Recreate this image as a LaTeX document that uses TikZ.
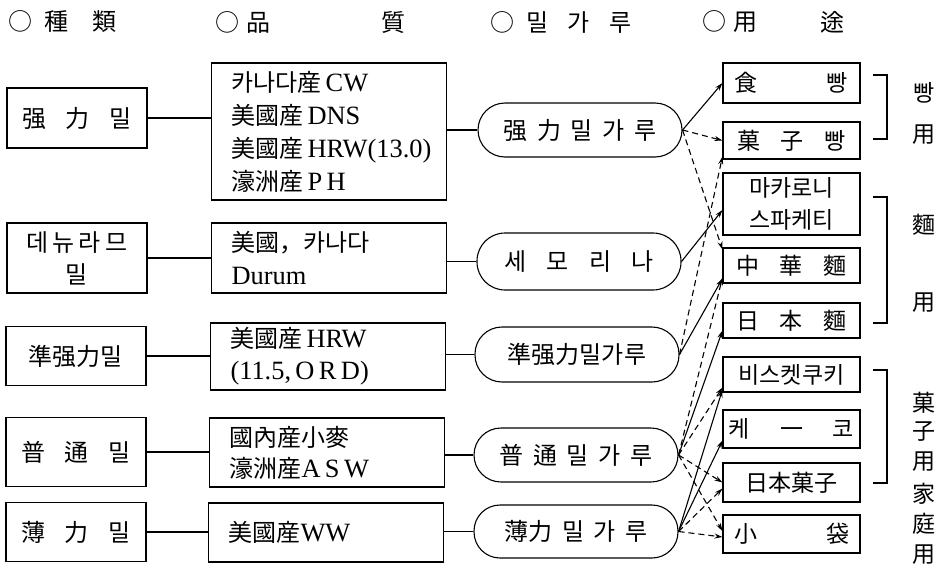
\documentclass[tikz,border=0pt]{standalone}
\usepackage{fontspec}
\setmainfont{Noto Sans CJK KR}
\newfontfamily\lat{Liberation Serif}[Scale=1.1]
\usetikzlibrary{arrows.meta}
\newcommand{\wsp}[1]{\hspace{#1em}}

\begin{document}
\begin{tikzpicture}[x=1pt, y=-1pt, line width=1.1pt, >={Stealth[length=8pt,width=5pt]}]
    \tikzstyle{kindbox} = [rectangle, draw, minimum width=140pt, inner sep=0pt, align=center, font=\fontsize{24}{32}\selectfont]
    \tikzstyle{gradebox} = [rectangle, draw, text width=195pt, inner xsep=20pt, inner ysep=0pt, align=left, font=\fontsize{24}{33}\selectfont]
    \tikzstyle{flourbox} = [rectangle, draw, rounded corners=27pt, minimum width=204pt, minimum height=54pt, inner sep=0pt, font=\fontsize{24}{30}\selectfont]
    \tikzstyle{usebox} = [rectangle, draw, minimum width=137pt, inner sep=0pt, align=center, font=\fontsize{23}{32}\selectfont]
    \tikzstyle{headtext} = [inner sep=0pt, font=\fontsize{24}{30}\selectfont]
    \tikzstyle{sidetext} = [inner sep=0pt, font=\fontsize{23}{30}\selectfont]
    \tikzstyle{solidarrow} = [->]
    \tikzstyle{dasharrow} = [->, dash pattern=on 6pt off 4pt]

    \useasboundingbox (0,0) rectangle (951,573);

    % headings
    \node[headtext] (hKind) at (63,22) {○\wsp{0.5}種\wsp{1}類};
    \node[headtext] (hGrade) at (243,22) {○\wsp{0.3}品};
    \node[headtext] (hGrade2) at (393,22) {質};
    \node[headtext] (hFlour) at (561,22) {○\wsp{0.5}밀\wsp{0.8}가\wsp{0.8}루};
    \node[headtext] (hUse) at (730,22) {○\wsp{0.3}用};
    \node[headtext] (hUse2) at (832,22) {途};

    % kinds of wheat
    \node[kindbox, minimum height=60pt] (tA) at (77,118) {强\wsp{0.8}力\wsp{0.8}밀};
    \node[kindbox, minimum height=70pt] (tB) at (77,258) {데\,뉴\,라\,므\\밀};
    \node[kindbox, minimum height=59pt] (tC) at (76,356) {準强力밀};
    \node[kindbox, minimum height=69pt] (tD) at (76,452) {普\wsp{0.8}通\wsp{0.8}밀};
    \node[kindbox, minimum height=59pt] (tE) at (76,532) {薄\wsp{0.8}力\wsp{0.8}밀};

    % grades
    \node[gradebox, minimum height=137pt] (qA) at (329,131.5) {카나다産\,{\lat CW}\\美國産\,{\lat DNS}\\美國産\,{\lat HRW(13.0)}\\濠洲産\,{\lat P\,H}};
    \node[gradebox, minimum height=70pt] (qB) at (329,258) {美國，카나다\\{\lat Durum}};
    \node[gradebox, minimum height=67pt, font=\fontsize{24}{32}\selectfont] (qC) at (328,356.5) {美國産\,{\lat HRW}\\{\lat (11.5,\,O\,R\,D)}};
    \node[gradebox, minimum height=69pt, font=\fontsize{24}{31}\selectfont] (qD) at (327,452.5) {國內産小麥\\濠洲産{\lat A\,S\,W}};
    \node[gradebox, minimum height=59pt] (qE) at (326,532.5) {美國産{\lat WW}};

    % flours
    \node[flourbox] (fA) at (580,130) {强\wsp{0.4}力\wsp{0.4}밀\wsp{0.4}가\wsp{0.4}루};
    \node[flourbox, minimum height=57pt, rounded corners=28pt] (fB) at (579,261.5) {세\wsp{0.85}모\wsp{0.85}리\wsp{0.85}나};
    \node[flourbox, minimum height=55pt] (fC) at (577,354.5) {準强力밀가루};
    \node[flourbox] (fD) at (576,455) {普\wsp{0.4}通\wsp{0.4}밀\wsp{0.4}가\wsp{0.4}루};
    \node[flourbox, minimum height=53pt, rounded corners=26pt] (fE) at (576,531.5) {薄力\wsp{0.4}밀\wsp{0.4}가\wsp{0.4}루};

    % uses
    \node[usebox, minimum height=40pt] (uA) at (791.5,83) {食\wsp{3}빵};
    \node[usebox, minimum height=37pt] (uB) at (791.5,140.5) {菓\wsp{0.9}子\wsp{0.9}빵};
    \node[usebox, minimum height=62pt] (uC) at (791.5,204) {마카로니\\스파케티};
    \node[usebox, minimum height=35pt] (uD) at (791.5,265.5) {中\wsp{0.9}華\wsp{0.9}麵};
    \node[usebox, minimum height=35pt] (uE) at (791.5,320.5) {日\wsp{0.9}本\wsp{0.9}麵};
    \node[usebox, minimum height=35pt] (uF) at (791.5,374.5) {비스켓쿠키};
    \node[usebox, minimum height=38pt] (uG) at (791.5,429) {케\wsp{1.3}一\wsp{1.3}코};
    \node[usebox, minimum height=39pt] (uH) at (791.5,482.5) {日本菓子};
    \node[usebox, minimum height=38pt] (uI) at (791.5,534) {小\wsp{3}袋};

    % brackets and side labels
    \draw (873,75) -- (887,75) -- (887,139) -- (873,139);
    \draw (873,197) -- (887,197) -- (887,323) -- (873,323);
    \draw (873,370) -- (887,370) -- (887,483) -- (873,483);
    \node[sidetext] (sBread1) at (924,93) {빵};
    \node[sidetext] (sBread2) at (924,135) {用};
    \node[sidetext] (sNoodle1) at (924,225) {麵};
    \node[sidetext] (sNoodle2) at (924,303) {用};
    \node[sidetext] (sSweet1) at (924,403) {菓};
    \node[sidetext] (sSweet2) at (924,432) {子};
    \node[sidetext] (sSweet3) at (924,462) {用};
    \node[sidetext] (sHome1) at (924,494) {家};
    \node[sidetext] (sHome2) at (924,524) {庭};
    \node[sidetext] (sHome3) at (924,555) {用};

    % kind -- grade -- flour
    \draw (tA.east) -- (tA.east -| qA.west);
    \draw (tB.east) -- (qB.west);
    \draw (tC.east) -- (tC.east -| qC.west);
    \draw (tD.east) -- (tD.east -| qD.west);
    \draw (tE.east) -- (tE.east -| qE.west);
    \draw (qA.east |- fA.west) -- (fA.west);
    \draw (qB.east |- fB.west) -- (fB.west);
    \draw (qC.east |- fC.west) -- (fC.west);
    \draw (qD.east |- fD.west) -- (fD.west);
    \draw (qE.east |- fE.west) -- (fE.west);

    % flour -> use
    \draw[solidarrow] (fA.east) -- (uA.west);
    \draw[dasharrow] (fA.east) -- (uB.west);
    \draw[dasharrow] (fA.east) -- ([yshift=-2pt]uD.north west);
    \draw[solidarrow] (fB.east) -- ([yshift=-6pt]uC.west);
    \draw[solidarrow] (fC.east) -- ([yshift=5pt]uD.south west);
    \draw[dasharrow] (fC.east) -- ([yshift=3pt]uB.south west);
    \draw[dasharrow] (fD.east) -- ([yshift=6pt]uD.south west);
    \draw[solidarrow] (fD.east) -- ([yshift=8pt]uE.south west);
    \draw[dasharrow] (fD.east) -- ([yshift=5pt]uF.south west);
    \draw[dasharrow] (fD.east) -- (uH.west);
    \draw[dasharrow] (fD.east) -- ([yshift=3pt]uI.west);
    \draw[solidarrow] (fE.east) -- ([yshift=3pt]uF.south west);
    \draw[solidarrow] (fE.east) -- ([yshift=8pt]uG.south west);
    \draw[dasharrow] (fE.east) -- ([yshift=-6pt]uH.west);
    \draw[dasharrow] (fE.east) -- ([yshift=-3pt]uI.west);
\end{tikzpicture}
\end{document}
